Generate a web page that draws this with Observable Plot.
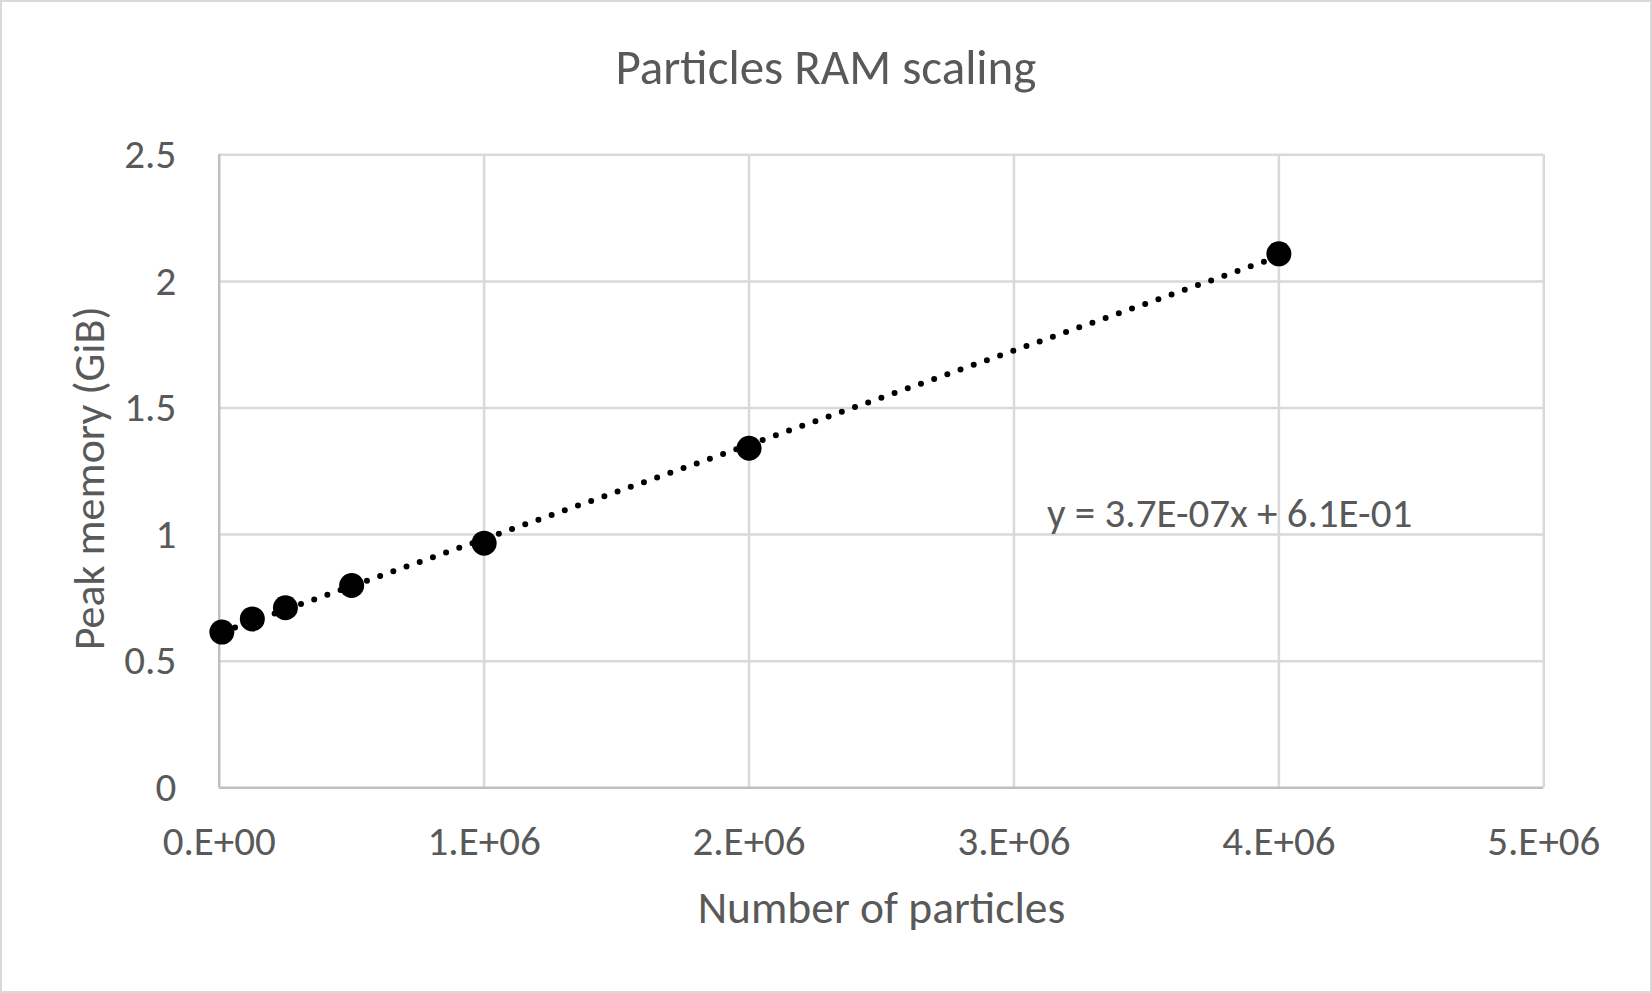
<!DOCTYPE html>
<html>
<head>
<meta charset="utf-8">
<script src="https://cdn.jsdelivr.net/npm/d3@7"></script>
<script src="https://cdn.jsdelivr.net/npm/@observablehq/plot@0.6"></script>
<style>
  html, body { margin: 0; padding: 0; background: #fff; }
  #wrap {
    position: relative; width: 1652px; height: 993px; overflow: hidden;
    box-shadow: inset 0 0 0 2px #d9d9d9; background: #fff;
    font-family: Carlito, Lato, "Open Sans", sans-serif; color: #595959;
  }
  #title {
    height: 120px; box-sizing: border-box; padding-top: 43px;
    text-align: center; font-size: 49px; line-height: 1; color: #595959;
  }
  #chart svg { display: block; }
</style>
</head>
<body>
<div id="wrap">
  <div id="title">Particles RAM scaling</div>
  <div id="chart"></div>
</div>
<script>
// Data
const particles = [10000, 125000, 250000, 500000, 1000000, 2000000, 4000000];
const peakMemory = [0.615, 0.667, 0.711, 0.799, 0.966, 1.341, 2.109];

const xTicks = [0, 1000000, 2000000, 3000000, 4000000, 5000000];
const xTickLabels = ["0.E+00", "1.E+06", "2.E+06", "3.E+06", "4.E+06", "5.E+06"];
const yTicks = [0, 0.5, 1, 1.5, 2, 2.5];
const yTickLabels = ["0", "0.5", "1", "1.5", "2", "2.5"];

const xLabel = "Number of particles";
const yLabel = "Peak memory (GiB)";
const equationText = ["y = 3.7E-07x + 6.1E-01"];
const equationAt = [{x: 3814000, y: 1.083}];

const data = particles.map((p, i) => ({particles: p, memory: peakMemory[i]}));

const textColor = "#595959";

const chart = Plot.plot({
  width: 1652,
  height: 873,
  marginTop: 34.3,
  marginBottom: 205.7,
  marginLeft: 218.7,
  marginRight: 108.7,
  style: {fontFamily: "Carlito, Lato, 'Open Sans', sans-serif", fontSize: "41px", color: textColor, background: "transparent", overflow: "visible"},
  x: {domain: [0, 5000000]},
  y: {domain: [0, 2.5]},
  marks: [
    Plot.gridX(xTicks.slice(1), {stroke: "#d9d9d9", strokeOpacity: 1, strokeWidth: 2.5}),
    Plot.gridY(yTicks.slice(1), {stroke: "#d9d9d9", strokeOpacity: 1, strokeWidth: 2.5}),
    Plot.ruleX([0], {stroke: "#bfbfbf", strokeWidth: 2.5}),
    Plot.ruleY([0], {stroke: "#bfbfbf", strokeWidth: 2.5}),
    Plot.axisX(xTicks, {
      tickSize: 0, tickPadding: 38, label: null,
      tickFormat: (d) => xTickLabels[xTicks.indexOf(d)],
      fill: textColor, fontSize: 41
    }),
    Plot.axisY(yTicks, {
      tickSize: 0, tickPadding: 43, label: null,
      tickFormat: (d) => yTickLabels[yTicks.indexOf(d)],
      fill: textColor, fontSize: 41
    }),
    Plot.text([xLabel], {frameAnchor: "bottom", dy: 121, text: (d) => d, fill: textColor, fontSize: 45.5, lineAnchor: "middle", textAnchor: "middle"}),
    Plot.text([yLabel], {frameAnchor: "left", dx: -129, dy: 7, rotate: -90, text: (d) => d, fill: textColor, fontSize: 44, lineAnchor: "middle", textAnchor: "middle"}),
    Plot.linearRegressionY(data, {
      x: "particles", y: "memory", ci: 0,
      stroke: "black", strokeWidth: 6, strokeDasharray: "0 14", strokeLinecap: "round"
    }),
    Plot.dot(data, {x: "particles", y: "memory", r: 12.5, fill: "black", stroke: "none"}),
    Plot.text(equationAt, {x: "x", y: "y", text: (d, i) => equationText[i], fill: textColor, fontSize: 41, lineAnchor: "middle"})
  ]
});
document.getElementById("chart").appendChild(chart);
</script>
</body>
</html>
